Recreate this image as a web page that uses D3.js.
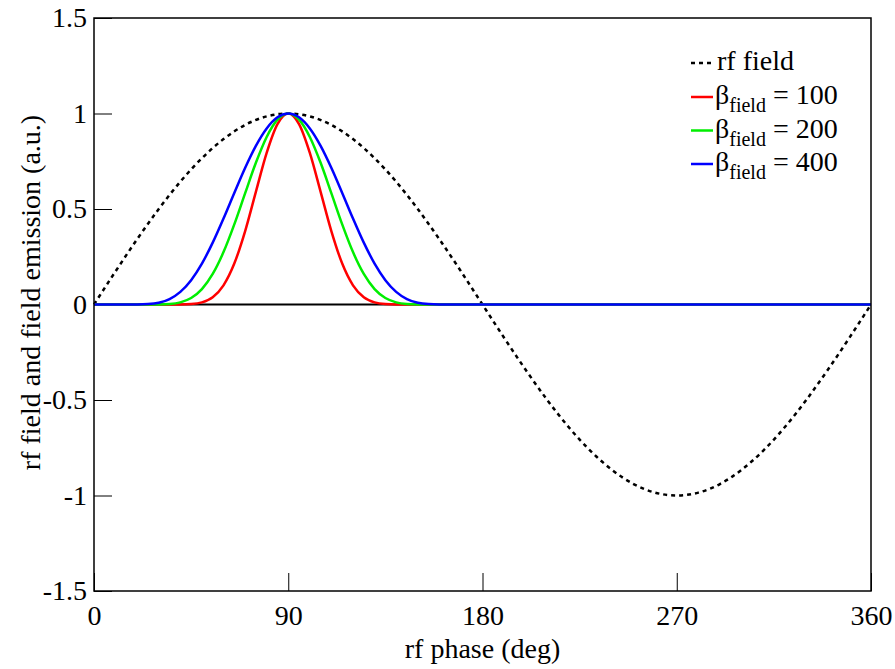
<!DOCTYPE html>
<html>
<head>
<meta charset="utf-8">
<script src="https://cdn.jsdelivr.net/npm/d3@7"></script>
<style>
  body { margin: 0; background: #fff; }
  svg text { font-family: "Liberation Serif", "Times New Roman", serif; fill: #000; }
</style>
</head>
<body>
<svg width="895" height="669"></svg>
<script>
const width = 895;
const height = 669;
const margin = { top: 18, right: 24, bottom: 78, left: 94 };

// rf field (10 deg steps)
const rfPhase = [0,10,20,30,40,50,60,70,80,90,100,110,120,130,140,150,160,170,180,
    190,200,210,220,230,240,250,260,270,280,290,300,310,320,330,340,350,360];
const rfField = [0,0.174,0.342,0.5,0.643,0.766,0.866,0.94,0.985,1,0.985,0.94,0.866,0.766,0.643,0.5,0.342,0.174,0,
    -0.174,-0.342,-0.5,-0.643,-0.766,-0.866,-0.94,-0.985,-1,-0.985,-0.94,-0.866,-0.766,-0.643,-0.5,-0.342,-0.174,0];

// field emission (5 deg steps up to 180, zero after)
const emPhase = [0,5,10,15,20,25,30,35,40,45,50,55,60,65,70,75,80,85,90,
    95,100,105,110,115,120,125,130,135,140,145,150,155,160,165,170,175,180,360];
const beta100 = [0,0,0,0,0,0,0,0,0.0003,0.0023,0.0111,0.038,0.1004,0.2142,0.3834,0.5898,0.7936,0.9443,1,
    0.9443,0.7936,0.5898,0.3834,0.2142,0.1004,0.038,0.0111,0.0023,0.0003,0,0,0,0,0,0,0,0,0];
const beta200 = [0,0,0,0,0,0,0.0004,0.0026,0.0112,0.0339,0.0806,0.1598,0.2744,0.4195,0.5818,0.7418,0.8773,0.968,1,
    0.968,0.8773,0.7418,0.5818,0.4195,0.2744,0.1598,0.0806,0.0339,0.0112,0.0026,0.0004,0,0,0,0,0,0,0];
const beta400 = [0,0,0,0,0.0002,0.002,0.0092,0.0283,0.066,0.1275,0.2142,0.3238,0.4502,0.584,0.7145,0.8305,0.9217,0.98,1,
    0.98,0.9217,0.8305,0.7145,0.584,0.4502,0.3238,0.2142,0.1275,0.066,0.0283,0.0092,0.002,0.0002,0,0,0,0,0];

const xTicks = [0, 90, 180, 270, 360];
const yTicks = [-1.5, -1, -0.5, 0, 0.5, 1, 1.5];
const betaValues = ["100", "200", "400"];
const betaColors = ["#ff0000", "#00ee00", "#0000ff"];

const svg = d3.select("svg");
const innerW = width - margin.left - margin.right;
const innerH = height - margin.top - margin.bottom;

const x = d3.scaleLinear().domain([0, 360]).range([margin.left, margin.left + innerW]);
const y = d3.scaleLinear().domain([-1.5, 1.5]).range([margin.top + innerH, margin.top]);

// axes with inward ticks
const xAxis = svg.append("g")
    .attr("transform", `translate(0,${margin.top + innerH})`)
    .call(d3.axisBottom(x).tickValues(xTicks).tickSize(-18).tickPadding(14).tickFormat(d3.format("d")));
const yAxis = svg.append("g")
    .attr("transform", `translate(${margin.left},0)`)
    .call(d3.axisLeft(y).tickValues(yTicks).tickSize(-18).tickPadding(7).tickFormat(d => d === 0 ? "0" : String(d)));

[xAxis, yAxis].forEach(a => {
    a.select(".domain").remove();
    a.selectAll(".tick line").attr("stroke", "#000").attr("stroke-width", 1);
    a.selectAll(".tick text").attr("font-size", 28);
});

// zero line
svg.append("line")
    .attr("x1", x(0)).attr("x2", x(360))
    .attr("y1", y(0)).attr("y2", y(0))
    .attr("stroke", "#000").attr("stroke-width", 2);

// rf field
const rfLine = d3.line().x((d, i) => x(rfPhase[i])).y(d => y(d)).curve(d3.curveNatural);
svg.append("path")
    .datum(rfField)
    .attr("d", rfLine)
    .attr("fill", "none")
    .attr("stroke", "#000")
    .attr("stroke-width", 2.5)
    .attr("stroke-dasharray", "4,4");

// emission curves
const emLine = d3.line().x((d, i) => x(emPhase[i])).y(d => y(d)).curve(d3.curveMonotoneX);
[beta100, beta200, beta400].forEach((s, k) => {
    svg.append("path")
        .datum(s)
        .attr("d", emLine)
        .attr("fill", "none")
        .attr("stroke", betaColors[k])
        .attr("stroke-width", 2.5);
});

// frame
svg.append("rect")
    .attr("x", margin.left).attr("y", margin.top)
    .attr("width", innerW).attr("height", innerH)
    .attr("fill", "none").attr("stroke", "#000").attr("stroke-width", 1.5);

// axis titles
svg.append("text")
    .attr("x", margin.left + innerW / 2)
    .attr("y", 658)
    .attr("text-anchor", "middle")
    .attr("font-size", 28)
    .text("rf phase (deg)");

svg.append("text")
    .attr("transform", `translate(40,${margin.top + innerH / 2 - 12}) rotate(-90)`)
    .attr("text-anchor", "middle")
    .attr("font-size", 28)
    .text("rf field and field emission (a.u.)");

// legend
const legend = svg.append("g");
legend.append("line")
    .attr("x1", 691).attr("x2", 715).attr("y1", 63).attr("y2", 63)
    .attr("stroke", "#000").attr("stroke-width", 2.5).attr("stroke-dasharray", "4,4");
legend.append("text")
    .attr("x", 717).attr("y", 70)
    .attr("font-size", 28)
    .text("rf field");

betaValues.forEach((v, k) => {
    const ly = 97 + k * 33.5;
    legend.append("line")
        .attr("x1", 691).attr("x2", 713).attr("y1", ly).attr("y2", ly)
        .attr("stroke", betaColors[k]).attr("stroke-width", 2.5);
    const t = legend.append("text")
        .attr("x", 715).attr("y", ly + 7)
        .attr("font-size", 28);
    t.append("tspan").text("β");
    t.append("tspan").attr("font-size", 20).attr("dy", 8).text("field");
    t.append("tspan").attr("dy", -8).text(" = " + v);
});
</script>
</body>
</html>
